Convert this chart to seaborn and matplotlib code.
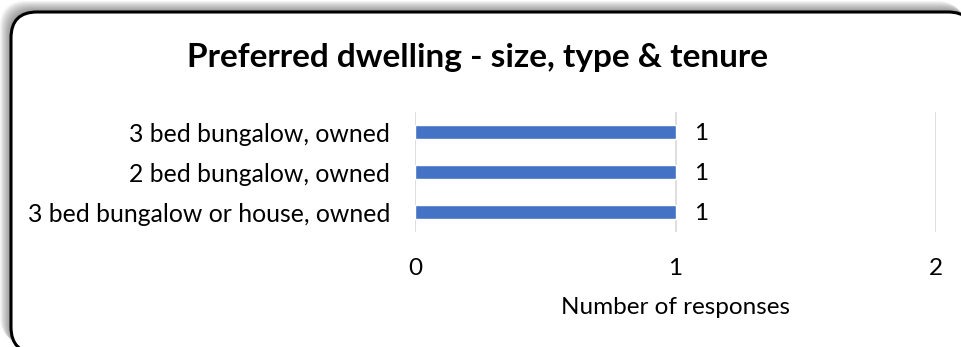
import matplotlib
matplotlib.use("Agg")
import matplotlib.pyplot as plt
from matplotlib.patches import FancyBboxPatch
import seaborn as sns
import pandas as pd

# Survey answers: preferred dwelling and the number of people choosing it
categories = [
    "3 bed bungalow, owned",
    "2 bed bungalow, owned",
    "3 bed bungalow or house, owned",
]
responses = [1, 1, 1]
x_ticks = [0, 1, 2]

title = "Preferred dwelling - size, type & tenure"
x_title = "Number of responses"

df = pd.DataFrame({"dwelling": categories, "responses": responses})

sns.set_theme(style="white")
plt.rcParams["font.family"] = ["Lato", "DejaVu Sans"]

W, H = 962, 347
fig = plt.figure(figsize=(W / 100, H / 100), dpi=100)
fig.patch.set_facecolor("white")

# Background panel in pixel units: soft shadow plus rounded frame
bg = fig.add_axes([0, 0, 1, 1], zorder=0)
bg.set_xlim(0, W)
bg.set_ylim(H, 0)
bg.axis("off")
x0, y0, bw, bh, r = 11, 12, 963, 341, 26
for d in range(11, 0, -1):
    bg.add_patch(FancyBboxPatch((x0 - d, y0 - d), bw, bh,
                                boxstyle=f"round,pad=0,rounding_size={r}",
                                fc=(0, 0, 0, 0.045), ec="none", zorder=1))
bg.add_patch(FancyBboxPatch((x0, y0), bw, bh,
                            boxstyle=f"round,pad=0,rounding_size={r}",
                            fc="white", ec="black", lw=2.2, zorder=2))

fig.text(478 / W, 1 - 58 / H, title, ha="center", va="center",
         fontsize=24, fontweight="bold", color="black")

ax = fig.add_axes([415 / W, 1 - 232 / H, (936 - 415) / W, 120 / H], zorder=3)
ax.patch.set_alpha(0)
sns.barplot(data=df, x="responses", y="dwelling", orient="h",
            color="#4472C4", saturation=1, width=0.37, ax=ax, zorder=3)

ax.set_xlim(0, 2)
ax.set_xticks(x_ticks)
ax.set_xticklabels([str(t) for t in x_ticks])
ax.grid(axis="x", color="#D9D9D9", lw=1.2, zorder=0)
ax.grid(axis="y", visible=False)
for s in ax.spines.values():
    s.set_visible(False)
ax.tick_params(axis="both", length=0, colors="black")
ax.tick_params(axis="x", pad=18.5, labelsize=17.5)
ax.tick_params(axis="y", pad=18, labelsize=17.8)
ax.set_ylabel("")
ax.set_xlabel(x_title, fontsize=17.5, color="black", labelpad=13)

for cont in ax.containers:
    texts = ax.bar_label(cont, labels=[str(v) for v in responses], padding=13,
                         fontsize=17.5, color="black")
    for t in texts:
        t.set_verticalalignment("center_baseline")

fig.savefig("out.png", dpi=100)
